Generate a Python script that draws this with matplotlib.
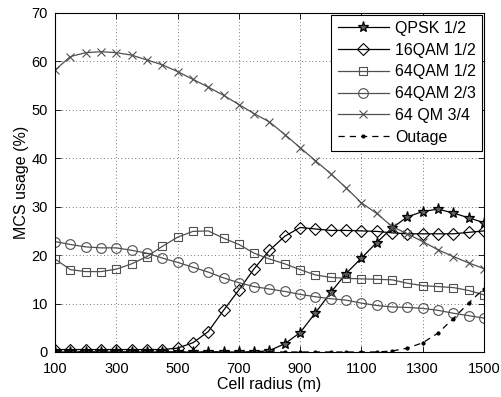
import matplotlib.pyplot as plt
import numpy as np

# dados (raio da celula em m, uso de MCS em %)
raio = np.arange(100, 1501, 50)

qpsk_12 = [0, 0, 0, 0, 0, 0, 0, 0, 0, 0, 0, 0, 0, 0, 0.3, 1.7, 4.0, 8.1,
           12.3, 16.2, 19.4, 22.6, 25.6, 27.9, 29.0, 29.5, 28.7, 27.7, 26.7]
qam16_12 = [0.5, 0.5, 0.5, 0.5, 0.5, 0.5, 0.5, 0.5, 0.8, 1.9, 4.2, 8.6, 12.8,
            17.2, 21.0, 23.9, 25.7, 25.4, 25.1, 25.1, 25.0, 24.9, 24.6, 24.4,
            24.4, 24.4, 24.4, 24.7, 25.0]
qam64_12 = [19.2, 17.0, 16.6, 16.6, 17.1, 18.2, 19.7, 21.8, 23.7, 24.9, 25.0,
            23.5, 22.2, 20.4, 19.2, 18.2, 17.0, 15.9, 15.4, 15.2, 15.1, 15.0,
            14.9, 14.2, 13.7, 13.5, 13.3, 12.7, 11.8]
qam64_23 = [22.8, 22.2, 21.7, 21.5, 21.5, 21.0, 20.4, 19.4, 18.5, 17.5, 16.5,
            15.3, 14.3, 13.5, 13.0, 12.5, 11.9, 11.4, 11.0, 10.7, 10.1, 9.6,
            9.3, 9.2, 9.0, 8.6, 8.0, 7.5, 7.0]
qam64_34 = [58.2, 61.0, 61.8, 62.0, 61.8, 61.3, 60.3, 59.3, 57.9, 56.3, 54.7,
            53.0, 51.1, 49.2, 47.5, 44.9, 42.2, 39.5, 36.8, 33.9, 30.8, 28.6,
            25.9, 24.4, 22.8, 21.1, 19.7, 18.4, 17.2]
outage = [0, 0, 0, 0, 0, 0, 0, 0, 0, 0, 0, 0, 0, 0, 0, 0, 0, 0, 0, 0, 0, 0,
          0.2, 0.8, 1.9, 3.9, 6.9, 10.1, 13.1]

xticks = [100, 300, 500, 700, 900, 1100, 1300, 1500]
yticks = [0, 10, 20, 30, 40, 50, 60, 70]

plt.rcParams['font.family'] = ['Liberation Sans', 'DejaVu Sans']

fig = plt.figure(figsize=(5.02, 3.97), dpi=100)
ax = fig.add_axes([0.1096, 0.1134, 0.8545, 0.8539])

cinza = '#505050'
ax.plot(raio, qpsk_12, color='black', lw=0.9, marker='*', ms=8,
        mfc='#606060', mec='black', mew=0.9, label='QPSK 1/2')
ax.plot(raio, qam16_12, color='black', lw=0.9, marker='D', ms=6,
        mfc='none', mec='black', mew=0.8, label='16QAM 1/2')
ax.plot(raio, qam64_12, color=cinza, lw=0.9, marker='s', ms=6,
        mfc='none', mec=cinza, mew=0.8, label='64QAM 1/2')
ax.plot(raio, qam64_23, color=cinza, lw=0.9, marker='o', ms=7,
        mfc='none', mec=cinza, mew=0.8, label='64QAM 2/3')
ax.plot(raio, qam64_34, color=cinza, lw=0.9, marker='x', ms=6,
        mec=cinza, mew=0.8, label='64 QM 3/4')
ax.plot(raio, outage, color='black', lw=0.9, ls=(0, (5, 4)), marker='.',
        ms=4, label='Outage')

ax.set_xlim(100, 1500)
ax.set_ylim(0, 70)
ax.set_xticks(xticks)
ax.set_yticks(yticks)
ax.tick_params(direction='in', top=True, right=True, labelsize=10.5,
               length=4, width=0.6)
ax.tick_params(axis='x', pad=7)
ax.tick_params(axis='y', pad=5)
ax.grid(True, color='black', ls=(0, (1, 4)), lw=0.5)
for s in ax.spines.values():
    s.set_linewidth(0.8)

ax.set_xlabel('Cell radius (m)', fontsize=11.5, labelpad=1)
ax.set_ylabel('MCS usage (%)', fontsize=11.5, labelpad=2)

leg = ax.legend(loc='upper right', fontsize=11.5, fancybox=False,
                framealpha=1, edgecolor='black', borderaxespad=0.1,
                handlelength=3.2, handletextpad=0.4, labelspacing=0.42,
                borderpad=0.4)
leg.get_frame().set_linewidth(0.8)

fig.savefig('out.png', dpi=100)
